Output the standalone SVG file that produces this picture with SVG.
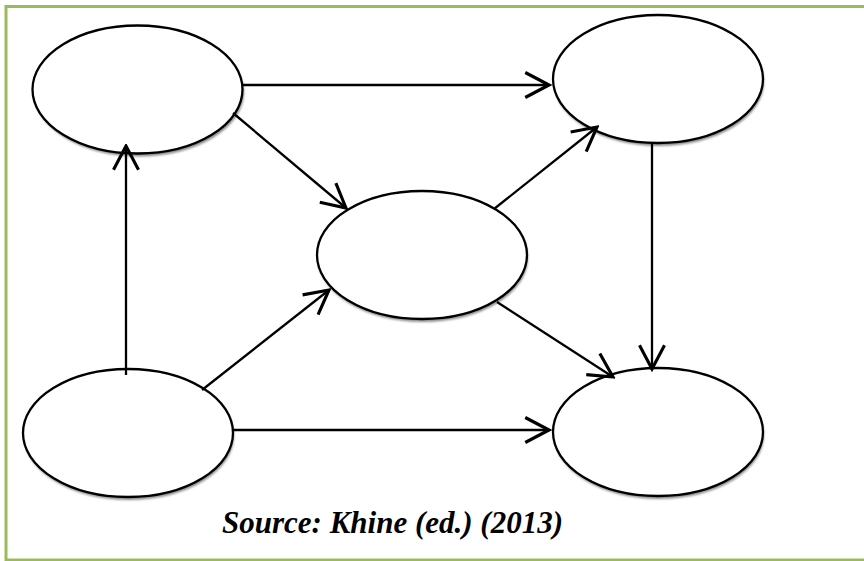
<svg xmlns="http://www.w3.org/2000/svg" width="864" height="561" viewBox="0 0 864 561">
  <style>
    .frame { fill: none; stroke: #9BBB59; stroke-width: 3; }
    .node { fill: #ffffff; stroke: #000000; stroke-width: 2.3; }
    .shadow { fill: #8c8c8c; filter: url(#soft); }
    .edge { fill: none; stroke: #000000; stroke-width: 2.3; marker-end: url(#head); }
    .caption { font-family: "Liberation Serif", "Times New Roman", serif; font-weight: bold; font-style: italic; font-size: 31px; fill: #000000; }
  </style>
  <defs>
    <filter id="soft" x="-10%" y="-10%" width="120%" height="130%">
      <feGaussianBlur stdDeviation="1.2"/>
    </filter>
    <marker id="head" markerUnits="userSpaceOnUse" markerWidth="30" markerHeight="30" viewBox="-22 -12 24 24" refX="0" refY="0" orient="auto">
      <path d="M-19,-10 L0,0 L-19,10" fill="none" stroke="#000000" stroke-width="2.5" stroke-linejoin="miter"/>
    </marker>
  </defs>

  <rect width="864" height="561" fill="#ffffff"/>
  <rect class="frame" x="6" y="6.5" width="880" height="553.5"/>

  <!-- nodes: white ellipses with a soft grey drop shadow -->
  <g id="n-top-left">
    <ellipse class="shadow" cx="139" cy="92.5" rx="105" ry="64"/>
    <ellipse class="node" cx="137.5" cy="89.5" rx="105" ry="64"/>
  </g>
  <g id="n-top-right">
    <ellipse class="shadow" cx="659" cy="82" rx="105" ry="64"/>
    <ellipse class="node" cx="658" cy="79" rx="105" ry="64"/>
  </g>
  <g id="n-center">
    <ellipse class="shadow" cx="423" cy="258" rx="105" ry="64"/>
    <ellipse class="node" cx="422" cy="255" rx="105" ry="64"/>
  </g>
  <g id="n-bottom-left">
    <ellipse class="shadow" cx="129" cy="436" rx="105" ry="64"/>
    <ellipse class="node" cx="128" cy="433" rx="105" ry="64"/>
  </g>
  <g id="n-bottom-right">
    <ellipse class="shadow" cx="659" cy="435" rx="105" ry="64"/>
    <ellipse class="node" cx="658" cy="432" rx="105" ry="64"/>
  </g>

  <!-- connectors -->
  <g id="connectors">
    <line class="edge" x1="243" y1="85" x2="549" y2="85"/>
    <line class="edge" x1="233" y1="113" x2="346" y2="208"/>
    <line class="edge" x1="126" y1="375" x2="126" y2="146"/>
    <line class="edge" x1="202" y1="390" x2="329" y2="290"/>
    <line class="edge" x1="233" y1="430" x2="549" y2="430"/>
    <line class="edge" x1="494" y1="209" x2="597" y2="127"/>
    <line class="edge" x1="497" y1="302" x2="613" y2="377"/>
    <line class="edge" x1="652" y1="142" x2="652" y2="369"/>
  </g>

  <text class="caption" x="222" y="533">Source: Khine (ed.) (2013)</text>
</svg>
